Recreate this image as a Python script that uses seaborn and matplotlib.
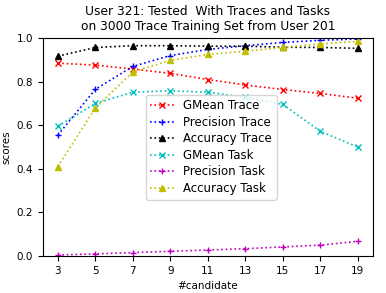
import matplotlib
matplotlib.use('Agg')
import matplotlib.pyplot as plt
import seaborn as sns
import pandas as pd

candidates = [3, 5, 7, 9, 11, 13, 15, 17, 19]
gmean_trace = [0.885, 0.876, 0.858, 0.838, 0.81, 0.785, 0.764, 0.746, 0.724]
precision_trace = [0.555, 0.765, 0.87, 0.92, 0.948, 0.965, 0.98, 0.99, 0.996]
accuracy_trace = [0.917, 0.957, 0.965, 0.965, 0.963, 0.963, 0.958, 0.957, 0.953]
gmean_task = [0.596, 0.70, 0.752, 0.758, 0.752, 0.728, 0.696, 0.572, 0.50]
precision_task = [0.005, 0.01, 0.016, 0.022, 0.028, 0.034, 0.042, 0.05, 0.068]
accuracy_task = [0.41, 0.68, 0.845, 0.898, 0.925, 0.94, 0.957, 0.973, 0.985]

series = [
    ('GMean Trace', gmean_trace, 'r', 'x'),
    ('Precision Trace', precision_trace, 'b', '+'),
    ('Accuracy Trace', accuracy_trace, 'k', '^'),
    ('GMean Task', gmean_task, 'c', 'x'),
    ('Precision Task', precision_task, 'm', '+'),
    ('Accuracy Task', accuracy_task, 'y', '^'),
]

fig, ax = plt.subplots(figsize=(3.86, 2.93), dpi=100)
for name, vals, col, mk in series:
    df = pd.DataFrame({'candidate': candidates, 'score': vals})
    sns.lineplot(data=df, x='candidate', y='score', ax=ax, color=col, marker=mk,
                 linestyle=':', label=name, markeredgecolor=col, markersize=5,
                 linewidth=1.2, markeredgewidth=1.0)

ax.set_xticks(candidates)
ax.set_ylim(0, 1.0)
ax.set_xlabel('#candidate', fontsize=7.5)
ax.set_ylabel('scores', fontsize=7.5)
ax.tick_params(labelsize=7.5)
ax.set_title('User 321: Tested  With Traces and Tasks\non 3000 Trace Training Set from User 201', fontsize=8.8)
ax.legend(loc='center', fontsize=8.5, labelspacing=0.3, bbox_to_anchor=(0.51, 0.5))
plt.subplots_adjust(left=0.111, right=0.966, top=0.870, bottom=0.126)
plt.savefig('out.png')
